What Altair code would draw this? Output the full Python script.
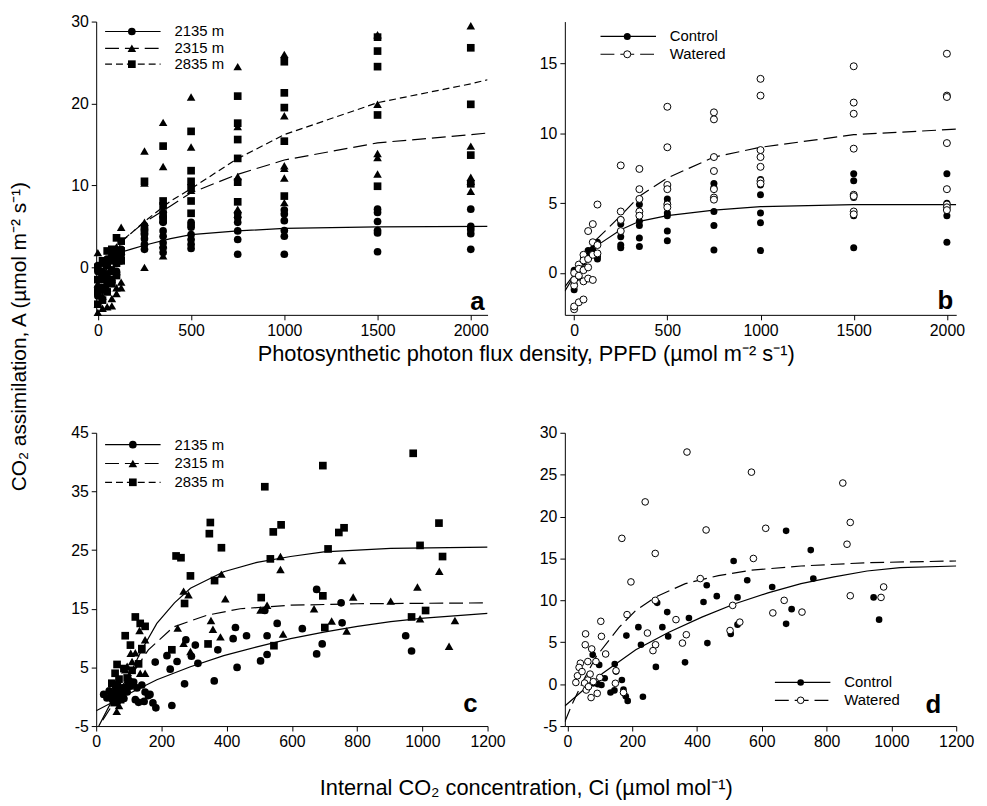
import altair as alt
import pandas as pd

FONT = "Liberation Sans"

# ---------------- Panel a : A vs PPFD, three elevations ----------------
a_2135_low_x = [0, 0, 0, 0, 0, 25, 25, 25, 25, 50, 50, 50, 50, 75, 75, 75, 75, 100, 100, 100, 100, 125, 125, 125]
a_2135_low_y = [0.2, -0.5, -1.5, -2.5, -3.5, 0.5, -0.5, -1.5, -2.8, 1.0, 0.2, -0.8, -2.0, 1.5, 0.8, -0.3, -1.5, 1.9, 1.2, 0.5, -0.5, 2.2, 1.5, 0.8]
a_2135_cols = {
    250: [5.1, 4.6, 4.0, 2.8, 2.2, 3.5],
    350: [6.1, 5.5, 4.45, 3.8, 2.4, 1.8, 3.0],
    500: [5.5, 4.9, 4.0, 3.4, 2.8, 2.3, 5.2],
    750: [6.6, 6.1, 5.5, 4.45, 3.4, 1.6],
    1000: [7.0, 6.5, 5.7, 4.5, 3.8, 1.6],
    1500: [7.1, 6.7, 5.6, 4.5, 4.2, 1.9],
    2000: [7.1, 5.0, 4.6, 4.1, 2.2],
}
a_2315_low_x = [0, 0, 0, 0, 25, 25, 25, 50, 50, 50, 75, 75, 75, 75, 100, 100, 100, 100, 125, 125, 125, 125]
a_2315_low_y = [1.8, -2.0, -4.5, -5.5, -1.0, -3.5, -5.0, 0.5, -2.5, -4.8, 1.5, -1.5, -3.8, -4.7, 2.5, -0.5, -2.5, -3.2, 4.9, 2.0, -1.8, -2.5]
a_2315_cols = {
    250: [14.2, 10.3, 5.5, 0.0],
    350: [17.7, 12.3, 7.1, 2.8, 1.4],
    500: [20.8, 14.7, 9.4],
    750: [24.5, 17.2, 11.1, 7.1, 6.5],
    1000: [26.0, 18.5, 12.4, 12.1, 10.9, 7.9],
    1500: [28.4, 19.9, 13.9, 13.4, 11.4],
    2000: [29.5, 14.8, 11.0, 10.5, 9.3],
}
a_2835_low_x = [0, 0, 0, 0, 25, 25, 25, 25, 50, 50, 50, 50, 75, 75, 75, 75, 100, 100, 100, 100, 125, 125, 125]
a_2835_low_y = [0.0, -1.5, -3.0, -4.5, 0.8, -0.8, -2.5, -4.0, 2.0, 0.5, -1.5, -3.0, 2.2, 1.0, -0.5, -2.0, 3.6, 2.0, 0.5, -1.0, 3.2, 2.0, 0.8]
a_2835_cols = {
    250: [10.5, 4.5],
    350: [14.8, 8.1, 7.5, 6.5, 5.8],
    500: [16.6, 11.8, 10.5, 9.7, 8.1, 6.6],
    750: [20.9, 17.6, 15.6, 13.3, 10.4, 8.0],
    1000: [25.1, 21.3, 19.5, 15.4, 8.7],
    1500: [28.1, 26.4, 24.5, 18.6, 9.9],
    2000: [26.8, 19.9, 13.7, 10.2],
}
a_fit_2135_x = [0, 50, 100, 175, 250, 390, 500, 750, 1000, 1500, 2090]
a_fit_2135_y = [-1.2, 0.7, 1.7, 2.2, 2.7, 3.5, 4.0, 4.45, 4.75, 4.95, 5.0]
a_fit_2315_x = [20, 75, 131, 250, 390, 500, 743, 1000, 1500, 2000, 2090]
a_fit_2315_y = [-1.5, 1.2, 3.3, 5.5, 7.5, 9.1, 11.3, 13.1, 15.2, 16.2, 16.4]
a_fit_2835_x = [20, 75, 131, 250, 390, 500, 743, 1000, 1500, 2000, 2090]
a_fit_2835_y = [-1.5, 1.0, 3.2, 5.6, 8.1, 9.6, 13.2, 16.2, 20.1, 22.4, 22.9]

# ---------------- Panel b : A vs PPFD, control / watered ----------------
b_ctrl_low_x = [0, 0, 0, 25, 25, 50, 50, 50, 75, 75, 100, 100, 125, 125, 125]
b_ctrl_low_y = [-1.2, -0.8, 0.2, 0.3, -0.3, 0.8, 0.3, 1.0, 1.6, 1.2, 1.7, 1.4, 2.2, 1.2, 1.0]
b_ctrl_cols = {
    250: [3.8, 3.5, 2.6, 2.0, 1.8],
    350: [4.9, 3.7, 3.4, 2.5, 1.9],
    500: [5.3, 5.0, 4.3, 4.1, 3.0, 2.3],
    750: [6.4, 6.1, 4.4, 3.4, 1.65],
    1000: [6.7, 6.3, 5.6, 4.3, 3.6, 1.6],
    1500: [7.1, 6.6, 5.4, 4.1, 1.8],
    2000: [7.1, 5.0, 4.1, 2.2],
}
b_wat_low_x = [0, 0, 0, 0, 0, 25, 25, 25, 25, 50, 50, 50, 50, 50, 75, 75, 75, 75, 100, 100, 100, 100, 125, 125, 125]
b_wat_low_y = [-2.6, -2.4, -0.9, -0.5, 0.0, 0.6, -0.2, -2.1, 0.3, 1.3, -0.6, -1.9, 0.9, 0.2, 3.0, 1.0, -0.4, 0.4, 3.5, 2.2, 1.3, -0.5, 4.9, 2.0, 1.4]
b_wat_cols = {
    250: [7.7, 4.4, 3.8, 3.0],
    350: [7.45, 6.0, 5.3, 4.4, 4.1],
    500: [11.9, 9.0, 6.3, 6.0, 4.9, 4.7],
    750: [11.5, 11.0, 8.3, 7.3, 6.0, 5.4, 5.25],
    1000: [13.9, 12.7, 8.8, 8.3, 7.6, 6.6, 6.4],
    1500: [14.8, 12.2, 11.4, 8.9, 5.6, 5.5, 4.4, 4.2],
    2000: [15.7, 12.7, 12.6, 9.3, 6.0, 4.9, 4.7, 4.5],
}
b_fit_ctrl_x = [-50, 0, 50, 120, 250, 350, 500, 750, 1000, 1500, 2050]
b_fit_ctrl_y = [-1.0, -0.1, 0.9, 1.94, 3.1, 3.7, 4.1, 4.5, 4.75, 4.9, 4.9]
b_fit_wat_x = [-50, 0, 50, 120, 250, 350, 500, 750, 1000, 1500, 2050]
b_fit_wat_y = [-1.3, -0.2, 0.9, 2.4, 4.1, 5.5, 6.8, 8.3, 9.0, 9.9, 10.3]

# ---------------- Panel c : A vs Ci, three elevations ----------------
c_2135_ci = [676, 751, 517, 555, 754, 427, 461, 420, 524, 632, 275, 304, 373, 217, 248, 227, 181, 312, 292, 524, 504, 432, 693, 676, 949, 967, 271, 362, 232, 183, 174, 147, 130, 165,
             23, 33, 40, 45, 50, 55, 60, 65, 70, 80, 85, 95, 105, 115, 125, 120, 140, 150, 160]
c_2135_a = [18.3, 16.0, 14.7, 12.5, 12.6, 11.8, 10.4, 9.9, 10.4, 11.6, 9.7, 8.8, 8.0, 7.0, 6.0, 4.7, 5.9, 5.7, 6.9, 7.2, 6.1, 5.0, 9.0, 7.3, 10.4, 7.8, 2.2, 2.7, -1.5, -1.9, -1.05, -0.8, -0.95, 0.4,
            0.4, -0.2, 1.0, 0.0, -0.5, 0.5, 1.5, -0.8, 0.2, 1.2, -0.3, 0.8, 1.8, 2.5, 1.5, -0.5, 2.0, 0.8, 0.2]
c_2315_ci = [268, 283, 384, 396, 565, 565, 754, 1052, 985, 788, 903, 524, 504, 668, 722, 352, 358, 381, 250, 268, 289, 573, 768, 993, 1100, 1082, 133, 150, 106, 135, 89, 63,
             70, 80, 90, 100, 60, 75, 110, 120, 95, 140, 150]
c_2315_a = [18.0, 17.4, 20.9, 16.7, 23.9, 21.7, 23.2, 21.4, 18.7, 17.0, 16.3, 15.6, 14.8, 15.0, 12.9, 13.0, 11.5, 10.2, 11.7, 9.1, 7.7, 10.7, 11.2, 13.3, 13.0, 8.6, 11.3, 9.7, 7.4, 4.0, 4.6, -2.5,
            -1.5, 0.5, 2.0, 3.5, -0.5, 1.5, 6.0, 7.5, 5.2, 8.0, 4.0]
c_2835_ci = [972, 695, 517, 350, 347, 384, 567, 543, 760, 744, 1051, 993, 1062, 245, 260, 289, 363, 534, 711, 271, 506, 695, 1010, 967, 701, 343, 545, 232, 120, 135, 150, 89, 105, 140,
             64, 58, 48, 70, 80, 60, 75, 90, 100, 110, 130, 55, 65, 85, 95]
c_2835_a = [41.5, 39.4, 35.8, 29.7, 27.8, 25.4, 29.3, 28.1, 28.8, 28.0, 29.6, 25.8, 23.9, 24.0, 23.7, 20.6, 19.8, 23.5, 25.2, 15.9, 16.9, 17.2, 14.7, 13.6, 11.8, 9.0, 8.7, 8.0, 13.6, 12.5, 12.0, 10.4, 8.8, 8.2,
            5.5, 4.0, 2.3, 3.0, 1.5, 0.5, -0.5, 1.0, 2.5, 4.5, 5.6, -1.0, 2.0, 4.8, 3.2]
c_fit_2135_x = [0, 100, 186, 289, 391, 493, 596, 698, 801, 903, 1005, 1200]
c_fit_2135_y = [-2.4, 0.5, 2.9, 5.1, 7.0, 8.5, 9.9, 11.0, 12.0, 12.8, 13.4, 14.2]
c_fit_2315_x = [20, 60, 100, 160, 237, 340, 442, 596, 801, 1200]
c_fit_2315_y = [-4.0, -0.5, 3.0, 8.0, 11.9, 13.9, 15.0, 15.6, 15.85, 16.0]
c_fit_2835_x = [8, 50, 100, 140, 186, 240, 289, 391, 493, 596, 698, 903, 1200]
c_fit_2835_y = [-5.0, -0.5, 3.5, 8.0, 12.5, 16.0, 18.5, 21.3, 22.9, 23.9, 24.7, 25.3, 25.5]

# ---------------- Panel d : A vs Ci, control / watered ----------------
d_ctrl_ci = [675, 751, 513, 555, 759, 430, 632, 420, 461, 525, 692, 675, 525, 504, 945, 962, 277, 308, 375, 219, 293, 311, 227, 182, 432, 363, 273, 233,
             78, 98, 146, 150, 115, 168, 80, 105, 133, 145, 173, 180, 186, 94]
d_ctrl_a = [18.3, 16.0, 14.7, 12.4, 12.6, 11.8, 11.6, 9.8, 10.5, 10.35, 8.95, 7.2, 7.1, 6.0, 10.35, 7.7, 9.7, 8.6, 7.9, 6.8, 6.8, 5.7, 4.7, 5.8, 4.9, 2.6, 2.06, -1.5,
            3.5, 2.3, 2.4, 1.5, 0.7, 0.5, 0.1, -0.1, -1.0, -0.75, -0.65, -1.45, -2.0, 0.0]
d_wat_ci = [369, 568, 850, 240, 428, 612, 873, 863, 168, 271, 574, 196, 410, 976, 873, 968, 271, 669, 510, 634, 724, 184, 247, 335, 367, 502, 532, 355, 272, 264,
            103, 56, 105, 55, 75, 118, 40, 63, 36, 88, 31, 148, 26, 63, 58, 73, 92, 173, 150, 53, 45, 70, 80, 65, 100]
d_wat_a = [27.7, 25.3, 24.0, 21.75, 18.4, 18.6, 19.3, 16.7, 17.4, 15.6, 15.0, 12.2, 12.6, 11.6, 10.55, 10.35, 10.0, 10.0, 9.4, 8.5, 8.6, 8.3, 6.1, 7.7, 5.9, 6.4, 7.4, 4.9, 4.7, 4.0,
           7.5, 6.0, 5.7, 4.7, 4.2, 3.6, 2.5, 2.7, 2.0, 2.7, 1.0, 0.1, 0.2, 0.5, -0.7, -1.6, -1.1, -1.0, 1.6, 0.13, 1.5, 1.2, 0.3, -0.3, 0.8]
d_fit_wat_x = [-8, 12, 50, 89, 160, 211, 272, 364, 466, 568, 721, 925, 1200]
d_fit_wat_y = [-4.5, -2.6, 0.5, 3.3, 6.8, 8.8, 10.4, 12.0, 12.95, 13.6, 14.1, 14.5, 14.7]
d_fit_ctrl_x = [-8, 109, 211, 313, 415, 517, 619, 721, 823, 925, 1027, 1200]
d_fit_ctrl_y = [-2.6, 1.3, 4.1, 6.2, 8.0, 9.6, 10.9, 12.0, 12.8, 13.5, 13.9, 14.1]

elev_labels = ["2135 m", "2315 m", "2835 m"]
trt_labels = ["Control", "Watered"]

Y_TITLE = "CO\u2082 assimilation, A (\u00b5mol m\u207b\u00b2 s\u207b\u00b9)"
X_TITLE_TOP = "Photosynthetic photon flux density, PPFD (\u00b5mol m\u207b\u00b2 s\u207b\u00b9)"
X_TITLE_BOT = "Internal CO\u2082 concentration, Ci (\u00b5mol mol\u207b\u00b9)"


def expand(low_x, low_y, cols):
    xs, ys = list(low_x), list(low_y)
    for k, vals in cols.items():
        xs += [k] * len(vals)
        ys += list(vals)
    return pd.DataFrame({"x": xs, "y": ys})


def axis(vals):
    return alt.Axis(values=vals, title=None, grid=False, tickSize=5, tickColor="black",
                    domainColor="black", labelColor="black", labelFont=FONT, labelFontSize=16,
                    labelPadding=3, labelFlush=False, labelOverlap=False,
                    labelExpr="'' + datum.value", domainWidth=1, tickWidth=1)


def enc(xdom, ydom, xt, yt):
    return dict(
        x=alt.X("x:Q", scale=alt.Scale(domain=xdom, nice=False, zero=False), axis=axis(xt)),
        y=alt.Y("y:Q", scale=alt.Scale(domain=ydom, nice=False, zero=False), axis=axis(yt)),
    )


def pts(df, e, shape, size, open_=False):
    if open_:
        m = alt.Chart(df).mark_point(shape=shape, filled=True, fill="white", stroke="black",
                                     strokeWidth=1, size=size, opacity=1)
    else:
        m = alt.Chart(df).mark_point(shape=shape, filled=True, color="black", size=size, opacity=1)
    return m.encode(**e)


def fit(xs, ys, e, dash=None):
    kw = dict(color="black", strokeWidth=1.2, clip=True)
    if dash:
        kw["strokeDash"] = dash
    return alt.Chart(pd.DataFrame({"x": xs, "y": ys})).mark_line(**kw).encode(**e)


ONE = pd.DataFrame({"k": [0]})


def legend(rows, x1, x2, xm, xt):
    out = []
    for py, label, shape, size, open_, dash in rows:
        kw = dict(color="black", strokeWidth=1.2)
        if dash:
            kw["strokeDash"] = dash
        out.append(alt.Chart(ONE).mark_rule(**kw).encode(x=alt.value(x1), x2=alt.value(x2), y=alt.value(py)))
        if open_:
            pm = alt.Chart(ONE).mark_point(shape=shape, filled=True, fill="white", stroke="black",
                                           strokeWidth=1, size=size, opacity=1)
        else:
            pm = alt.Chart(ONE).mark_point(shape=shape, filled=True, color="black", size=size, opacity=1)
        out.append(pm.encode(x=alt.value(xm), y=alt.value(py)))
        out.append(alt.Chart(ONE).mark_text(align="left", baseline="middle", font=FONT, fontSize=15,
                                            color="black").encode(x=alt.value(xt), y=alt.value(py), text=alt.value(label)))
    return out


def label(txt, px, py, size=22, align="center", angle=0, bold=False, baseline="middle"):
    kw = dict(align=align, baseline=baseline, font=FONT, fontSize=size, color="black",
              fontWeight="bold" if bold else "normal")
    if angle:
        kw["angle"] = angle
    return alt.Chart(ONE).mark_text(**kw).encode(x=alt.value(px), y=alt.value(py), text=alt.value(txt))


W, H = 395, 296
GAP_X, GAP_Y = 78, 119
DASH_LONG = [14, 6]
DASH_SHORT = [7, 4]

# panel a
ea = enc([-9, 2090], [-5.8, 30], [0, 500, 1000, 1500, 2000], [0, 10, 20, 30])
pa = alt.layer(
    fit(a_fit_2135_x, a_fit_2135_y, ea),
    fit(a_fit_2315_x, a_fit_2315_y, ea, DASH_LONG),
    fit(a_fit_2835_x, a_fit_2835_y, ea, DASH_SHORT),
    pts(expand(a_2135_low_x, a_2135_low_y, a_2135_cols), ea, "circle", 60),
    pts(expand(a_2315_low_x, a_2315_low_y, a_2315_cols), ea, "triangle-up", 75),
    pts(expand(a_2835_low_x, a_2835_low_y, a_2835_cols), ea, "square", 60),
    *legend([(10, elev_labels[0], "circle", 60, False, None),
             (27, elev_labels[1], "triangle-up", 75, False, DASH_LONG),
             (43, elev_labels[2], "square", 60, False, DASH_SHORT)], 9, 65, 36, 79),
    label("a", 392, 291, size=26, align="right", bold=True, baseline="alphabetic"),
    # shared axis titles
    label(Y_TITLE, -77, H + 22, size=21, angle=270),
    label(X_TITLE_TOP, W + GAP_X / 2, H + 40),
).properties(width=W, height=H)

# panel b
eb = enc([-50, 2050], [-3, 18], [0, 500, 1000, 1500, 2000], [0, 5, 10, 15])
pb = alt.layer(
    fit(b_fit_ctrl_x, b_fit_ctrl_y, eb),
    fit(b_fit_wat_x, b_fit_wat_y, eb, DASH_LONG),
    pts(expand(b_ctrl_low_x, b_ctrl_low_y, b_ctrl_cols), eb, "circle", 50),
    pts(expand(b_wat_low_x, b_wat_low_y, b_wat_cols), eb, "circle", 50, open_=True),
    *legend([(15, trt_labels[0], "circle", 50, False, None),
             (33, trt_labels[1], "circle", 50, True, DASH_LONG)], 36, 92, 63, 106),
    label("b", 392, 290, size=26, align="right", bold=True, baseline="alphabetic"),
).properties(width=W, height=H)

# panel c
ec = enc([0, 1200], [-5, 45], [0, 200, 400, 600, 800, 1000, 1200], [-5, 5, 15, 25, 35, 45])
pc = alt.layer(
    fit(c_fit_2135_x, c_fit_2135_y, ec),
    fit(c_fit_2315_x, c_fit_2315_y, ec, DASH_LONG),
    fit(c_fit_2835_x, c_fit_2835_y, ec),
    pts(pd.DataFrame({"x": c_2135_ci, "y": c_2135_a}), ec, "circle", 60),
    pts(pd.DataFrame({"x": c_2315_ci, "y": c_2315_a}), ec, "triangle-up", 75),
    pts(pd.DataFrame({"x": c_2835_ci, "y": c_2835_a}), ec, "square", 60),
    *legend([(12, elev_labels[0], "circle", 60, False, None),
             (31, elev_labels[1], "triangle-up", 75, False, DASH_LONG),
             (50, elev_labels[2], "square", 60, False, DASH_SHORT)], 9, 65, 37, 79),
    label("c", 385, 282, size=26, align="right", bold=True, baseline="alphabetic"),
    label(X_TITLE_BOT, W + GAP_X / 2, H + 63),
).properties(width=W, height=H)

# panel d
ed = enc([-8, 1200], [-5, 30], [0, 200, 400, 600, 800, 1000, 1200], [-5, 0, 5, 10, 15, 20, 25, 30])
pdd = alt.layer(
    fit(d_fit_ctrl_x, d_fit_ctrl_y, ed),
    fit(d_fit_wat_x, d_fit_wat_y, ed, DASH_LONG),
    pts(pd.DataFrame({"x": d_ctrl_ci, "y": d_ctrl_a}), ed, "circle", 45),
    pts(pd.DataFrame({"x": d_wat_ci, "y": d_wat_a}), ed, "circle", 45, open_=True),
    *legend([(252, trt_labels[0], "circle", 45, False, None),
             (270, trt_labels[1], "circle", 45, True, DASH_LONG)], 212, 268, 238, 282),
    label("d", 380, 283, size=26, align="right", bold=True, baseline="alphabetic"),
).properties(width=W, height=H)

chart = alt.concat(pa, pb, pc, pdd, columns=2, bounds="flush",
                   spacing={"row": GAP_Y, "column": GAP_X}).properties(
    padding={"left": 1, "top": 2, "right": 5, "bottom": 5}
).configure_view(stroke=None)

chart.save("out.html", embed_options={"renderer": "svg", "actions": False})
